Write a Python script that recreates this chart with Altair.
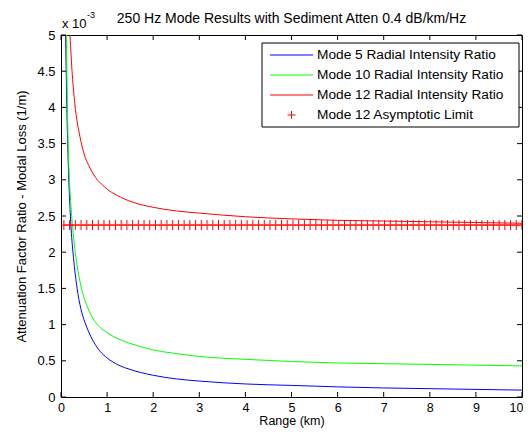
import altair as alt
import pandas as pd

# ---- data ----
blue_x = [0.1, 0.11, 0.13, 0.15, 0.17, 0.2, 0.22, 0.27, 0.35, 0.43, 0.52, 0.6, 0.7, 0.85, 1.0, 1.25, 1.5, 2.0, 2.5, 3.0, 4.0, 5.0, 6.0, 7.0, 8.0, 9.0, 10.0]
blue_y = [5.0, 4.6, 3.9, 3.38, 2.99, 2.55, 2.32, 1.93, 1.5, 1.22, 1.03, 0.9, 0.77, 0.63, 0.54, 0.44, 0.38, 0.3, 0.25, 0.22, 0.18, 0.16, 0.14, 0.125, 0.115, 0.105, 0.095]

green_x = [0.115, 0.13, 0.145, 0.17, 0.195, 0.245, 0.3, 0.41, 0.55, 0.7, 0.85, 1.0, 1.25, 1.5, 2.0, 2.5, 3.0, 4.0, 5.0, 6.0, 7.0, 8.0, 9.0, 10.0]
green_y = [5.0, 4.4, 3.8, 3.2, 2.85, 2.4, 2.05, 1.6, 1.28, 1.08, 0.96, 0.89, 0.8, 0.74, 0.65, 0.6, 0.56, 0.52, 0.49, 0.47, 0.46, 0.45, 0.44, 0.43]

red_x = [0.195, 0.245, 0.3, 0.41, 0.5, 0.6, 0.7, 0.8, 0.9, 1.0, 1.2, 1.56, 2.0, 2.5, 3.0, 4.0, 5.0, 6.0, 7.0, 8.0, 9.0, 10.0]
red_y = [5.0, 4.45, 4.05, 3.6, 3.36, 3.2, 3.08, 2.99, 2.93, 2.87, 2.79, 2.69, 2.62, 2.57, 2.54, 2.49, 2.46, 2.44, 2.43, 2.42, 2.41, 2.40]

limit_value = 2.375
limit_x = [0.0625 + 0.12422 * i for i in range(81)]

series_names = ["Mode 5 Radial Intensity Ratio", "Mode 10 Radial Intensity Ratio",
                "Mode 12 Radial Intensity Ratio"]
limit_name = "Mode 12 Asymptotic Limit"
series_colors = ["#0000ff", "#00ff00", "#ff0000"]

x_ticks = [0, 1, 2, 3, 4, 5, 6, 7, 8, 9, 10]
y_ticks = [0, 0.5, 1, 1.5, 2, 2.5, 3, 3.5, 4, 4.5, 5]

title_text = "250 Hz Mode Results with Sediment Atten 0.4 dB/km/Hz"
x_title = "Range (km)"
y_title = "Attenuation Factor Ratio - Modal Loss (1/m)"

W, H = 461, 362
FONT = "Liberation Sans"

rows = []
for name, xs_, ys_ in zip(series_names, [blue_x, green_x, red_x], [blue_y, green_y, red_y]):
    for a, b in zip(xs_, ys_):
        rows.append({"series": name, "x": a, "y": b})
lines_df = pd.DataFrame(rows)
limit_df = pd.DataFrame({"x": limit_x, "y": [limit_value] * len(limit_x)})

xs = alt.Scale(domain=[0, 10], nice=False)
ys = alt.Scale(domain=[0, 5], nice=False)

x_axis = alt.Axis(values=x_ticks, tickSize=0, labelPadding=4, domain=False, grid=False,
                  title=x_title, titlePadding=1, labelFontSize=12.5, titleFontSize=12.5,
                  labelFont=FONT, titleFont=FONT, titleFontWeight="normal",
                  labelColor="black", titleColor="black", labelFlush=False,
                  labelOverlap=False,
                  labelAlign={"condition": {"test": "datum.value == 10", "value": "right"},
                              "value": "center"},
                  labelOffset={"condition": {"test": "datum.value == 10", "value": 1},
                               "value": 0})
y_axis = alt.Axis(values=y_ticks, format=".1~f", tickSize=0, labelPadding=6, domain=False,
                  grid=False, title=y_title, titlePadding=8, labelFontSize=13,
                  titleFontSize=13, labelFont=FONT, titleFont=FONT,
                  titleFontWeight="normal", labelColor="black", titleColor="black",
                  labelFlush=False, labelOverlap=False)
main_x = alt.X("x:Q", scale=xs, axis=x_axis)
main_y = alt.Y("y:Q", scale=ys, axis=y_axis)

lines = []
for name, col in zip(series_names, series_colors):
    lines.append(
        alt.Chart(lines_df[lines_df.series == name])
        .mark_line(color=col, strokeWidth=1, clip=True, interpolate="monotone")
        .encode(x=main_x, y=main_y)
    )

plus_path = "M-1,0L1,0M0,-1L0,1"
markers = alt.Chart(limit_df).mark_point(shape=plus_path, color="#ff0000", filled=False,
                                         size=100, strokeWidth=1, opacity=1, clip=True).encode(
    x=main_x, y=main_y)

xt_df = pd.DataFrame({"x": x_ticks})
yt_df = pd.DataFrame({"y": y_ticks})
tick_b = alt.Chart(xt_df).mark_rule(color="black", strokeWidth=1).encode(
    x=main_x, y=alt.value(H), y2=alt.value(H - 5))
tick_t = alt.Chart(xt_df).mark_rule(color="black", strokeWidth=1).encode(
    x=main_x, y=alt.value(0), y2=alt.value(5))
tick_l = alt.Chart(yt_df).mark_rule(color="black", strokeWidth=1).encode(
    y=main_y, x=alt.value(0), x2=alt.value(5))
tick_r = alt.Chart(yt_df).mark_rule(color="black", strokeWidth=1).encode(
    y=main_y, x=alt.value(W), x2=alt.value(W - 5))

# ---- legend (manual, MATLAB style) ----
leg_box = alt.Chart(pd.DataFrame({"a": [0]})).mark_rect(
    fill="white", stroke="black", strokeWidth=1).encode(
    x=alt.value(201), x2=alt.value(458), y=alt.value(8), y2=alt.value(92))
leg_items = series_names + [limit_name]
leg_rows = [20, 40, 60, 80]
leg_df = pd.DataFrame({"label": leg_items})
leg_layers = [leg_box]
for i, (name, col) in enumerate(zip(series_names, series_colors)):
    leg_layers.append(
        alt.Chart(leg_df.iloc[[i]]).mark_rule(color=col, strokeWidth=1).encode(
            x=alt.value(209), x2=alt.value(252), y=alt.value(leg_rows[i]))
    )
leg_layers.append(
    alt.Chart(leg_df.iloc[[3]]).mark_point(shape=plus_path, color="#ff0000", filled=False,
                                           size=64, strokeWidth=1, opacity=1).encode(
        x=alt.value(230.5), y=alt.value(leg_rows[3]))
)
for i, name in enumerate(leg_items):
    leg_layers.append(
        alt.Chart(leg_df.iloc[[i]]).mark_text(align="left", baseline="middle", font=FONT,
                                              fontSize=13.7, color="black").encode(
            x=alt.value(256), y=alt.value(leg_rows[i]), text="label:N")
    )

# ---- annotations ----
ann_df = pd.DataFrame({"t": [title_text, "x 10", "-3"]})
title_mark = alt.Chart(ann_df.iloc[[0]]).mark_text(font=FONT, fontSize=14, color="black",
                                                   baseline="middle", align="center").encode(
    x=alt.value(W / 2), y=alt.value(-16), text="t:N")
x10_mark = alt.Chart(ann_df.iloc[[1]]).mark_text(font=FONT, fontSize=13, color="black",
                                                 baseline="alphabetic", align="left").encode(
    x=alt.value(1), y=alt.value(-7), text="t:N")
exp_mark = alt.Chart(ann_df.iloc[[2]]).mark_text(font=FONT, fontSize=9, color="black",
                                                 baseline="alphabetic", align="left").encode(
    x=alt.value(26), y=alt.value(-17), text="t:N")

chart = alt.layer(
    *lines, markers, tick_b, tick_t, tick_l, tick_r, *leg_layers, title_mark, x10_mark, exp_mark
).properties(
    width=W, height=H,
    autosize=alt.AutoSizeParams(type="none"),
    padding={"left": 53, "top": 27, "right": 1, "bottom": 32},
    background="white",
).configure_view(stroke="black", strokeWidth=1)

chart.save("out.html", embed_options={"renderer": "svg", "actions": False})
